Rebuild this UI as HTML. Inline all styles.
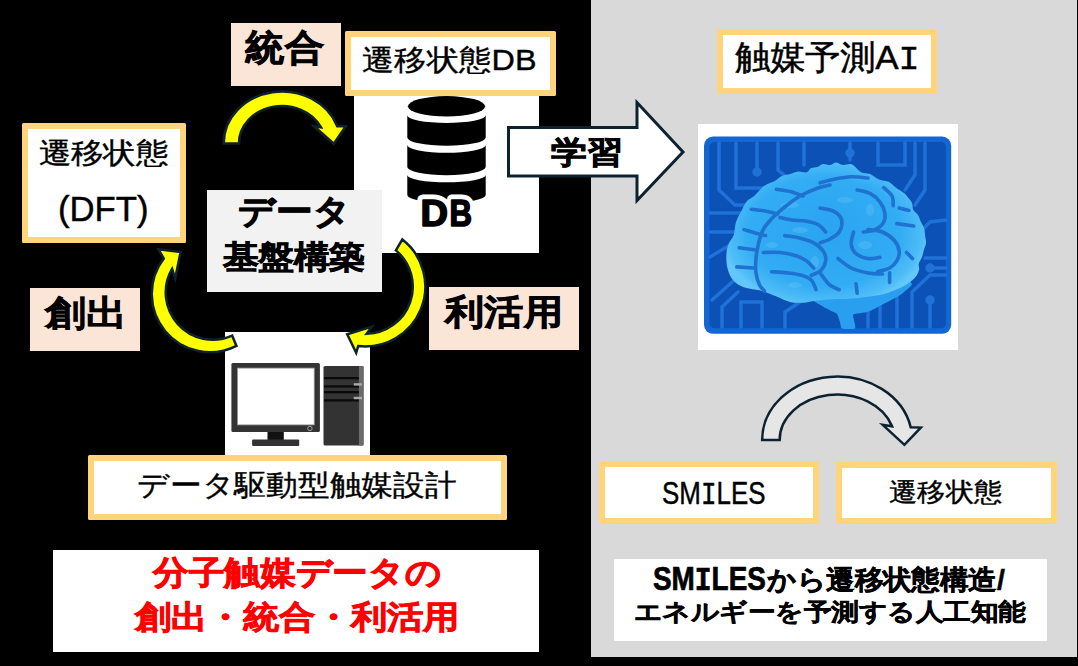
<!DOCTYPE html>
<html><head><meta charset="utf-8">
<style>
html,body{margin:0;padding:0;}
body{width:1078px;height:666px;background:#000;position:relative;overflow:hidden;font-family:"Liberation Sans",sans-serif;color:#000;}
.a{position:absolute;box-sizing:border-box;}
.peach{background:#fbe5d6;}
.ob{background:#fff;border:6px solid #ffd47a;border-radius:1.5px;}
.t{position:absolute;white-space:nowrap;line-height:1;}
.b{font-weight:bold;}
.m{font-family:"Liberation Mono",monospace;}
</style></head><body>
<!-- gray panel -->
<div class="a" style="left:591px;top:0;width:486px;height:657px;background:#d9d9d9;"></div>
<!-- white image bgs -->
<div class="a" style="left:354px;top:95px;width:185px;height:158px;background:#fff;"></div>
<div class="a" style="left:225px;top:332px;width:145px;height:124px;background:#fff;"></div>
<!-- boxes -->
<div class="a peach" style="left:231px;top:23px;width:110px;height:63px;"></div>
<div class="a ob" style="left:345px;top:31px;width:211px;height:65px;"></div>
<div class="a ob" style="left:22px;top:123px;width:164px;height:120px;"></div>
<div class="a" style="left:207px;top:190px;width:175px;height:102px;background:#f2f2f2;"></div>
<div class="a peach" style="left:30px;top:288px;width:110px;height:63px;"></div>
<div class="a peach" style="left:429px;top:287px;width:150px;height:63px;"></div>
<div class="a ob" style="left:88px;top:455px;width:419px;height:65px;"></div>
<div class="a" style="left:53px;top:550px;width:486px;height:102px;background:#fff;"></div>
<div class="a ob" style="left:717px;top:29px;width:220px;height:65px;"></div>
<div class="a" style="left:698px;top:124px;width:260px;height:226px;background:#fff;"></div>
<div class="a ob" style="left:599px;top:461px;width:220px;height:63px;"></div>
<div class="a ob" style="left:836px;top:462px;width:221px;height:62px;"></div>
<div class="a" style="left:614px;top:559px;width:433px;height:82px;background:#fff;"></div>

<svg class="a" style="left:0;top:0;" width="1078" height="666" viewBox="0 0 1078 666">
  <!-- DB icon -->
  <g fill="#000">
    <ellipse cx="446.5" cy="106.3" rx="38.6" ry="10.2"/>
    <path d="M407.3,115.3 A39,7.6 0 0 0 485.7,115.3 L485.7,137.5 A39,8.2 0 0 1 407.3,137.5 Z"/>
    <path d="M407.3,145.1 A39,7.7 0 0 0 485.7,145.1 L485.7,167 A39,8.1 0 0 1 407.3,167 Z"/>
    <path d="M407.3,175.1 A39,7.1 0 0 0 485.7,175.1 L485.7,195.1 A39,7.6 0 0 1 407.3,195.1 Z"/>
    <g font-family="Liberation Sans" font-weight="bold" font-size="37" stroke-linejoin="round">
      <text x="420.5" y="226" textLength="27.5" lengthAdjust="spacingAndGlyphs" stroke="#fff" stroke-width="11">D</text>
      <text x="449.5" y="226" textLength="22.5" lengthAdjust="spacingAndGlyphs" stroke="#fff" stroke-width="11">B</text>
      <text x="420.5" y="226" textLength="27.5" lengthAdjust="spacingAndGlyphs" stroke="#000" stroke-width="1.6">D</text>
      <text x="449.5" y="226" textLength="22.5" lengthAdjust="spacingAndGlyphs" stroke="#000" stroke-width="1.6">B</text>
    </g>
  </g>
  <!-- computer -->
  <rect x="231.4" y="363.1" width="88.5" height="69" rx="1.5" fill="#333"/>
  <rect x="237.6" y="368.1" width="76.6" height="56.8" fill="#fff" stroke="#999" stroke-width="0.8"/>
  <rect x="267.5" y="432" width="16.3" height="8" fill="#111"/>
  <rect x="252.1" y="439.6" width="47.1" height="6.3" rx="1" fill="#333"/>
  <circle cx="309.9" cy="428.5" r="2.2" fill="none" stroke="#bbb" stroke-width="0.8"/>
  <rect x="323.5" y="366.1" width="40" height="79.4" rx="1.5" fill="#333"/>
  <rect x="358.9" y="366.1" width="4.6" height="79.4" fill="#6b6b6b"/>
  <g fill="#0a0a0a">
    <rect x="324" y="377" width="34.9" height="2.3"/>
    <rect x="324" y="385.3" width="34.9" height="2.3"/>
    <rect x="324" y="391" width="34.9" height="2.3"/>
    <rect x="324" y="399.2" width="34.9" height="2.3"/>
  </g>
  <rect x="353.8" y="383.2" width="8.2" height="2.4" fill="#aaa"/>
  <rect x="353.8" y="396.8" width="8.2" height="2.4" fill="#aaa"/>
  <!-- brain board -->
  <defs>
    <radialGradient id="bg1" cx="825" cy="232" r="105" gradientUnits="userSpaceOnUse" gradientTransform="translate(825 232) scale(1 0.72) translate(-825 -232)">
      <stop offset="0" stop-color="#2ba4f1"/>
      <stop offset="0.72" stop-color="#32acf4"/>
      <stop offset="0.93" stop-color="#4fbdf7"/>
      <stop offset="1" stop-color="#63c7f9"/>
    </radialGradient>
  </defs>
  <rect x="704" y="136.6" width="247.2" height="197.2" rx="9" fill="#1467d2"/>
  <rect x="709.5" y="142" width="236.5" height="186.3" rx="5" fill="#0b51b6"/>
  <g stroke="#1f72d8" stroke-width="3.5" fill="none" stroke-linecap="round">
    <path d="M719,143 V190 L735,205 H770"/>
    <path d="M736,143 V188 H790"/>
    <path d="M757,143 V172"/><circle cx="757" cy="172" r="3" fill="#1f72d8"/>
    <path d="M778,143 V170 L790,180"/>
    <path d="M804,143 V165"/>
    <path d="M850,143 V160"/><circle cx="850" cy="153" r="3" fill="#1f72d8"/>
    <path d="M878,143 V165 H905 V143"/>
    <path d="M915,143 V175 L905,190"/>
    <path d="M925,143 V190 L915,205"/>
    <path d="M710,213 H745"/>
    <path d="M710,232 H735"/>
    <path d="M946,220 L930,222 L920,232"/>
    <path d="M946,258 H925"/>
    <path d="M946,268 H930"/><circle cx="930" cy="268" r="3" fill="#1f72d8"/>
    <path d="M710,257 L730,245"/>
    <path d="M712,300 L740,275"/>
    <path d="M722,327 V307 L738,292"/>
    <path d="M741,327 V302 H762 V327"/>
    <path d="M785,327 V312 L800,302"/>
    <path d="M868,327 V305"/>
    <path d="M880,327 V300"/>
    <path d="M897,327 V295"/>
    <path d="M912,327 V292 L930,275 H946"/>
    <path d="M930,327 V300"/><circle cx="930" cy="300" r="3" fill="#1f72d8"/>
  </g>
  <!-- brain -->
  <path d="M812.0,298.0 C809.2,299.2 819.9,304.6 822.0,306.0 C824.1,307.4 831.4,311.0 832.9,311.8 C834.4,312.6 836.3,313.0 837.0,314.0 C837.7,315.0 839.5,320.6 840.0,322.0 C840.5,323.4 840.5,327.9 842.0,328.5 C843.5,329.1 853.8,329.4 855.0,328.5 C856.2,327.6 854.1,321.4 854.0,320.0 C853.9,318.6 852.2,315.2 853.6,314.4 C855.0,313.6 865.0,312.8 868.0,311.8 C871.0,310.8 880.3,305.7 883.5,304.0 C886.7,302.3 897.5,296.8 900.4,294.9 C903.2,292.9 911.5,286.0 912.0,284.5 C912.5,283.0 908.2,279.6 905.0,280.0 C901.8,280.4 885.5,286.6 880.0,288.0 C874.5,289.4 856.8,293.0 850.0,294.0 C843.2,295.0 814.8,296.8 812.0,298.0 Z" fill="#2a9ff0"/>
  <path d="M726.5,253.0 C726.8,248.8 727.8,246.0 729.0,243.0 C730.2,240.0 732.6,238.5 733.8,235.0 C735.0,231.5 734.6,226.2 736.0,222.0 C737.4,217.8 740.1,213.5 741.9,210.0 C743.7,206.5 744.9,203.4 747.0,201.0 C749.1,198.6 751.7,198.2 754.5,195.7 C757.3,193.2 760.7,188.4 764.0,186.0 C767.3,183.6 771.3,183.0 774.3,181.3 C777.3,179.6 779.3,177.2 782.0,176.0 C784.7,174.8 787.8,174.8 790.5,174.0 C793.2,173.2 795.3,171.8 798.0,171.5 C800.7,171.2 804.6,172.9 806.8,172.3 C809.0,171.7 809.2,168.9 811.0,168.0 C812.8,167.1 815.6,167.6 817.6,166.9 C819.6,166.2 820.9,164.3 823.0,164.0 C825.1,163.7 827.8,165.2 830.0,165.0 C832.2,164.8 833.8,162.5 836.0,162.5 C838.2,162.5 840.3,164.7 843.0,165.0 C845.7,165.3 849.0,163.3 852.0,164.5 C855.0,165.7 858.0,170.7 861.0,172.3 C864.0,173.9 867.0,172.8 870.0,174.0 C873.0,175.2 875.8,178.2 879.0,179.5 C882.2,180.8 886.0,180.5 889.0,182.0 C892.0,183.5 894.5,186.7 897.0,188.5 C899.5,190.3 902.2,191.5 904.0,193.0 C905.8,194.5 906.7,195.8 908.0,197.5 C909.3,199.2 911.1,200.9 912.0,203.0 C912.9,205.1 912.3,208.0 913.3,210.0 C914.3,212.0 916.8,213.2 918.0,215.0 C919.2,216.8 919.5,218.8 920.5,221.0 C921.5,223.2 923.2,225.7 924.0,228.0 C924.8,230.3 924.7,232.5 925.0,235.0 C925.3,237.5 926.2,240.6 926.0,243.0 C925.8,245.4 924.7,247.1 924.0,249.4 C923.3,251.7 922.9,254.6 922.0,257.0 C921.1,259.4 919.2,261.6 918.7,263.8 C918.2,266.0 919.7,267.6 919.0,270.0 C918.3,272.4 917.2,275.4 914.7,278.0 C912.2,280.6 908.8,283.3 904.3,285.8 C899.8,288.3 893.4,291.1 887.4,292.9 C881.4,294.7 874.5,295.8 868.0,296.8 C861.5,297.8 854.9,298.4 848.4,298.8 C841.9,299.2 834.4,299.1 829.0,299.4 C823.6,299.7 820.3,300.1 816.0,300.7 C811.7,301.2 807.3,302.5 803.0,302.7 C798.7,302.9 794.5,303.1 790.0,302.0 C785.5,300.9 780.7,298.2 776.0,296.3 C771.3,294.4 767.1,292.4 761.7,290.9 C756.3,289.4 748.5,289.1 743.7,287.3 C738.9,285.5 735.7,283.2 733.0,280.0 C730.3,276.8 728.5,272.5 727.4,268.0 C726.3,263.5 726.2,257.2 726.5,253.0 Z" fill="url(#bg1)"/>
  <g fill="#7ccffa" opacity="0.25">
    <ellipse cx="790" cy="205" rx="9" ry="3"/>
    <ellipse cx="800" cy="230" rx="8" ry="3"/>
    <ellipse cx="772" cy="245" rx="6" ry="3"/>
    <ellipse cx="815" cy="262" rx="4" ry="6"/>
    <ellipse cx="870" cy="210" rx="4" ry="6"/>
    <ellipse cx="865" cy="245" rx="7" ry="4"/>
    <ellipse cx="795" cy="285" rx="7" ry="3"/>
    <ellipse cx="845" cy="200" rx="8" ry="3"/>
  </g>
  <g stroke="#1f72cf" stroke-width="3.6" fill="none" stroke-linecap="round" stroke-linejoin="round">
    <path d="M776.4,189.3 C778.7,189.7 785.6,190.4 790.0,191.5 C794.4,192.6 800.8,195.2 802.9,196.0"/>
    <path d="M784.8,206.8 C787.3,205.0 794.5,199.1 800.0,196.0 C805.5,192.9 813.0,189.8 818.0,188.0 C823.0,186.2 828.0,185.5 830.0,185.0"/>
    <path d="M751.2,209.2 C753.5,209.5 760.6,210.2 765.0,211.0 C769.4,211.8 775.5,213.5 777.6,214.0"/>
    <path d="M784.8,206.8 C782.8,208.6 776.4,213.8 772.8,217.6 C769.2,221.4 765.6,225.2 763.2,229.6 C760.8,234.0 759.6,239.2 758.4,244.0 C757.2,248.8 756.4,253.7 756.0,258.5 C755.6,263.3 755.4,268.5 756.0,272.9 C756.6,277.3 758.2,281.9 759.6,284.9 C761.0,287.9 763.6,289.9 764.4,290.9"/>
    <path d="M744.0,229.6 C746.0,230.2 752.4,232.2 756.0,233.2 C759.6,234.2 764.0,235.2 765.6,235.6"/>
    <path d="M739.2,247.7 L756.0,250.0"/>
    <path d="M736.8,266.9 L753.6,268.0"/>
    <path d="M780.0,217.6 C782.0,218.0 787.6,219.4 792.0,220.0 C796.4,220.6 802.1,220.4 806.5,221.2 C810.9,222.0 815.3,223.0 818.5,224.8 C821.7,226.6 824.5,230.8 825.7,232.0"/>
    <path d="M784.8,235.6 C787.2,236.0 794.5,236.8 799.3,238.0 C804.1,239.2 809.7,240.7 813.7,242.9 C817.7,245.1 821.3,248.3 823.3,251.3 C825.3,254.3 826.1,257.7 825.7,260.9 C825.3,264.1 823.3,268.1 820.9,270.5 C818.5,272.9 812.9,274.5 811.3,275.3"/>
    <path d="M763.2,252.5 C766.0,252.5 774.4,251.9 780.0,252.5 C785.6,253.1 792.4,254.6 796.8,256.0 C801.2,257.4 803.7,258.9 806.5,260.9 C809.3,262.9 812.5,266.8 813.7,268.0"/>
    <path d="M771.6,271.7 C774.2,271.9 782.2,272.3 787.2,272.9 C792.2,273.5 797.7,274.1 801.7,275.3 C805.7,276.5 808.9,277.7 811.3,280.1 C813.7,282.5 815.2,288.1 816.0,289.7"/>
    <path d="M820.0,182.8 C822.4,182.2 829.2,180.2 834.4,179.2 C839.6,178.2 845.6,177.0 851.2,176.8 C856.8,176.6 865.2,177.8 868.0,178.0"/>
    <path d="M857.2,190.0 C859.4,190.6 866.6,191.6 870.4,193.6 C874.2,195.6 877.6,198.8 880.0,202.0 C882.4,205.2 884.2,209.4 884.8,212.8 C885.4,216.2 885.2,219.6 883.6,222.4 C882.0,225.2 878.6,228.0 875.2,229.6 C871.8,231.2 865.2,231.6 863.2,232.0"/>
    <path d="M883.6,187.6 C885.0,189.0 890.4,193.0 892.0,196.0 C893.6,199.0 893.0,204.0 893.2,205.6"/>
    <path d="M899.2,208.0 L908.9,210.4"/>
    <path d="M896.8,223.6 L913.7,226.0"/>
    <path d="M820.0,208.0 C822.4,208.6 830.8,209.6 834.4,211.6 C838.0,213.6 840.8,216.6 841.6,220.0 C842.4,223.4 841.2,228.8 839.2,232.0 C837.2,235.2 832.8,237.4 829.6,239.2 C826.4,241.0 821.6,242.3 820.0,242.9"/>
    <path d="M853.6,232.0 C853.2,234.0 850.8,240.4 851.2,244.0 C851.6,247.6 853.2,251.3 856.0,253.7 C858.8,256.1 864.0,257.9 868.0,258.5 C872.0,259.1 878.0,257.5 880.0,257.3"/>
    <path d="M868.0,229.6 C870.4,230.0 878.0,230.2 882.4,232.0 C886.8,233.8 891.6,237.3 894.4,240.5 C897.2,243.7 898.8,247.9 899.2,251.3 C899.6,254.7 898.4,258.1 896.8,260.9 C895.2,263.7 892.8,266.2 889.6,268.0 C886.4,269.8 879.6,271.1 877.6,271.7"/>
    <path d="M838.0,258.5 C840.2,260.1 846.2,265.6 851.2,268.0 C856.2,270.4 862.8,271.9 868.0,272.9 C873.2,273.9 880.0,273.8 882.4,274.0"/>
    <path d="M906.5,252.5 L912.5,258.5"/>
    <path d="M856.0,283.7 L857.2,293.3"/>
    <path d="M889.6,272.9 L889.6,282.5"/>
    <path d="M820.0,272.9 C821.6,274.9 826.4,282.1 829.6,284.9 C832.8,287.7 837.6,288.9 839.2,289.7"/>
  </g>
  <!-- arrows -->
  <g stroke="#0c2231" stroke-width="2.5" stroke-linejoin="miter" fill="#ffff00">
    <path d="M223.65,143.50 A58.45,51.95 0 0 1 337.27,126.33 L345.80,126.30 L333.80,143.80 L314.00,126.30 L321.05,127.38 A43.15,37.45 0 0 0 238.95,143.50 Z"/>
    <path d="M236.44,345.90 A58.25,58.25 0 0 1 163.79,258.54 L158.40,249.30 L180.60,252.00 L175.20,278.50 L172.08,268.88 A47.25,47.25 0 0 0 232.22,335.67 Z"/>
    <path d="M402.35,239.44 A59.85,59.85 0 0 1 358.21,346.00 L356.20,352.80 L347.20,334.20 L372.00,326.60 L366.57,333.84 A47.25,47.25 0 0 0 395.87,250.40 Z"/>
  </g>
  <path d="M762.15,440.00 A75.05,63.45 0 0 1 910.74,427.35 L920.80,427.60 L904.40,444.80 L882.80,424.80 L892.09,426.30 A57.55,45.55 0 0 0 779.65,440.00 Z" fill="#e7e6e6" stroke="#0c2231" stroke-width="2.5"/>
  <path d="M508.5,127.5 L637,127.5 L637,102.5 L683,152 L637,200.5 L637,176 L508.5,176 Z" fill="#fff" stroke="#0c2231" stroke-width="3"/>
</svg>

<div class="t b" id="t1" style="left:245.39px;top:29.39px;font-size:40px;color:#000;transform-origin:0.31px -0.19px;transform:scale(0.9875,0.9073);-webkit-text-stroke:0.9px #000;">統合</div>
<div class="t" id="t2" style="left:361.79px;top:45.00px;font-size:32px;color:#000;transform-origin:1.11px 0.50px;transform:scale(1.0118,0.9125);-webkit-text-stroke:0.4px #000;">遷移状態DB</div>
<div class="t" id="t3" style="left:38.60px;top:138.60px;font-size:32px;color:#000;transform-origin:1.20px -0.30px;transform:scale(1.0071,0.8969);-webkit-text-stroke:0.4px #000;">遷移状態</div>
<div class="t" id="t4" style="left:58.19px;top:191.60px;font-size:32px;color:#000;transform-origin:1.41px 3.70px;transform:scale(1.0852,1.0733);-webkit-text-stroke:0.4px #000;">(DFT)</div>
<div class="t b" id="t5" style="left:238.00px;top:194.39px;font-size:36px;color:#000;transform-origin:1.50px 2.31px;transform:scale(1.0272,0.9559);-webkit-text-stroke:0.9px #000;">データ</div>
<div class="t b" id="t6" style="left:223.00px;top:241.60px;font-size:36px;color:#000;transform-origin:-0.50px -1.30px;transform:scale(0.9848,0.8784);-webkit-text-stroke:0.9px #000;">基盤構築</div>
<div class="t b" id="t7" style="left:45.00px;top:295.39px;font-size:40px;color:#000;transform-origin:-1.00px -0.19px;transform:scale(1.0263,0.8756);-webkit-text-stroke:0.6px #000;">創出</div>
<div class="t b" id="t8" style="left:445.00px;top:294.39px;font-size:40px;color:#000;transform-origin:-2.00px -0.19px;transform:scale(0.9857,0.8829);-webkit-text-stroke:0.9px #000;">利活用</div>
<div class="t" id="t9" style="left:137.39px;top:469.79px;font-size:32px;color:#000;transform-origin:0.81px 0.11px;transform:scale(0.9931,0.9094);-webkit-text-stroke:0.4px #000;">データ駆動型触媒設計</div>
<div class="t b" id="t10" style="left:153.39px;top:556.79px;font-size:36px;color:#ff0000;transform-origin:-1.19px -0.39px;transform:scale(0.9907,0.9167);-webkit-text-stroke:0.9px #ff0000;">分子触媒データの</div>
<div class="t b" id="t11" style="left:135.00px;top:601.60px;font-size:36px;color:#ff0000;transform-origin:-1.00px -1.30px;transform:scale(1.0000,0.8811);-webkit-text-stroke:0.9px #ff0000;">創出・統合・利活用</div>
<div class="t" id="t12" style="left:734.60px;top:41.00px;font-size:32px;color:#000;transform-origin:-0.30px 1.00px;transform:scale(1.0952,1.0484);-webkit-text-stroke:0.4px #000;">触媒予測A<span class="m">I</span></div>
<div class="t" id="t13" style="left:662.00px;top:478.60px;font-size:28px;color:#000;transform-origin:1.00px 3.70px;transform:scale(0.9255,1.1105);-webkit-text-stroke:0.4px #000;">SM<span class="m">I</span>LES</div>
<div class="t" id="t14" style="left:889.39px;top:480.00px;font-size:28px;color:#000;transform-origin:1.31px 0.00px;transform:scale(1.0118,0.9333);-webkit-text-stroke:0.4px #000;">遷移状態</div>
<div class="t b" id="t15" style="left:652.79px;top:564.39px;font-size:28px;color:#000;transform-origin:1.11px 3.81px;transform:scale(0.9964,1.1579);-webkit-text-stroke:0.6px #000;">SM<span class="m">I</span>LES</div>
<div class="t b" id="t15b" style="left:767.00px;top:567.00px;font-size:28px;color:#000;transform-origin:0.00px -1.00px;transform:scale(1.0175,0.9621);-webkit-text-stroke:0.5px #000;">から遷移状態構造/</div>
<div class="t b" id="t16" style="left:634.39px;top:601.39px;font-size:28px;color:#000;transform-origin:0.81px -1.19px;transform:scale(0.9817,0.8500);-webkit-text-stroke:0.5px #000;">エネルギーを予測する人工知能</div>
<div class="t b" id="t17" style="left:551.19px;top:137.19px;font-size:36px;color:#000;transform-origin:-0.09px -0.59px;transform:scale(0.9914,0.8568);-webkit-text-stroke:0.9px #000;">学習</div>
</body></html>
